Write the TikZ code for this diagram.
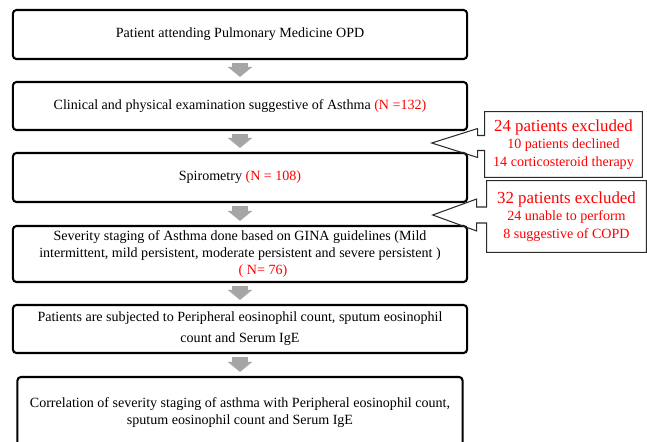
\documentclass[tikz,border=0pt]{standalone}
\usepackage{fontspec}
\setmainfont{Liberation Serif}
\usetikzlibrary{arrows.meta, calc}
\definecolor{accent}{HTML}{FF0000}
\definecolor{flowgray}{HTML}{A6A6A6}
\definecolor{edgegray}{HTML}{2B2B2B}
\tikzset{
  stage/.style={draw=black, line width=1.5pt, rounded corners=2.5pt, minimum width=11.35cm, align=center, inner sep=0pt, font=\fontsize{10}{12}\selectfont},
  flow/.style={draw=flowgray, line width=0.375cm, -{Triangle[width=0.6cm,length=0.25cm]}, shorten <=0.07cm, shorten >=0.1cm},
  excl/.style={align=center, text=accent, inner sep=0pt, font=\fontsize{10}{12.5}\selectfont},
  exclbox/.style={draw=edgegray, line width=0.75pt}
}
\begin{document}
\begin{tikzpicture}[x=0.025cm, y=-0.025cm]
  \useasboundingbox (0,0) rectangle (647,442);
  \clip (0,0) rectangle (647,442);
  % flow boxes
  \node[stage, minimum height=1.225cm] (visit) at (240,34.5) {Patient attending Pulmonary Medicine OPD};
  \node[stage, minimum height=1.2cm] (exam) at (240,106) {Clinical and physical examination suggestive of Asthma {\color{accent}(N =132)}};
  \node[stage, minimum height=1.225cm] (spiro) at (240,177.5) {Spirometry {\color{accent}(N = 108)}};
  \node[stage, minimum height=1.4cm] (staging) at (240,254) {Severity staging of Asthma done based on GINA guidelines (Mild\\intermittent, mild persistent, moderate persistent and severe persistent )\\\hspace*{1.15cm}{\color{accent}( N= 76)}};
  \node[stage, minimum height=1.2cm] (tests) at (240,329) {Patients are subjected to Peripheral eosinophil count, sputum eosinophil\\[3pt]count and Serum IgE};
  \node[stage, minimum width=11.125cm, minimum height=1.775cm] (correlate) at (240,412.5) {Correlation of severity staging of asthma with Peripheral eosinophil count,\\sputum eosinophil count and Serum IgE};
  % gray arrows
  \draw[flow] (visit.south) -- (exam.north);
  \draw[flow] (exam.south) -- (spiro.north);
  \draw[flow] (spiro.south) -- (staging.north);
  \draw[flow] (staging.south) -- (tests.north);
  \draw[flow] (tests.south) -- (correlate.north);
  % exclusions
  \node[excl, minimum width=3.925cm, minimum height=1.625cm] (declined) at (563.5,144.5) {{\fontsize{12}{14}\selectfont 24 patients excluded}\\10 patients declined\\14 corticosteroid therapy};
  \coordinate (tip1) at ($(declined.west)+(-53,-1.5)$);
  \draw[exclbox] (declined.south west) -- (declined.south east) -- (declined.north east) -- (declined.north west)
    -- ($(declined.west)+(0,-9)$) -- ++(-7,0) -- ++(0,-7) -- (tip1) -- ($(declined.west)+(-7,13)$) -- ++(0,-7) -- ++(7,0) -- cycle;
  \node[excl, minimum width=3.975cm, minimum height=1.775cm] (unable) at (566.5,216.5) {{\fontsize{12}{14}\selectfont 32 patients excluded}\\24 unable to perform\\8 suggestive of COPD};
  \coordinate (tip2) at ($(unable.west)+(-54,-1.5)$);
  \draw[exclbox] (unable.south west) -- (unable.south east) -- (unable.north east) -- (unable.north west)
    -- ($(unable.west)+(0,-9.5)$) -- ++(-10,0) -- ++(0,-8) -- (tip2) -- ($(unable.west)+(-10,14.5)$) -- ++(0,-8) -- ++(10,0) -- cycle;
\end{tikzpicture}
\end{document}
